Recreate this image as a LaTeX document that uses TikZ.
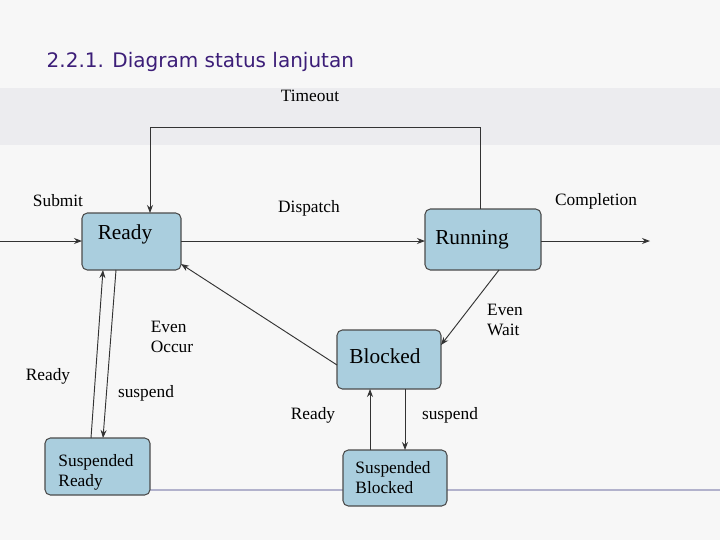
\documentclass[tikz,border=0pt]{standalone}
\usepackage{fontspec}
\setmainfont{Liberation Serif}
\newfontfamily\titlefont{DejaVu Sans}
\usetikzlibrary{arrows.meta}
\definecolor{boxfill}{RGB}{170,206,222}
\definecolor{titlecol}{RGB}{60,30,120}
\begin{document}
\begin{tikzpicture}[x=0.75pt,y=-0.75pt,
  st/.style={draw=black!70,fill=boxfill,rounded corners=4pt,line width=0.8pt},
  lbl/.style={font=\fontsize{13}{15}\selectfont,align=left},
  big/.style={font=\fontsize{16}{17}\selectfont},
  ar/.style={draw=black!80,line width=0.7pt,-{Stealth[length=6pt]}}]
\useasboundingbox (0,0) rectangle (720,540);
\fill[white!94!gray] (0,0) rectangle (720,540);
\fill[blue!8!gray!14] (0,88) rectangle (720,145);
\draw[blue!20!gray!50,line width=1pt] (90,490) -- (720,490);
\node[anchor=west,text=titlecol,font=\titlefont\fontsize{15}{16}\selectfont] (title) at (42,62) {2.2.1. Diagram status lanjutan};
% states
\path[st] (82,213) rectangle (181,270);
\node[big] (readyt) at (125,234) {Ready};
\path[st] (425,209) rectangle (541,270);
\node[big] (run) at (472,240) {Running};
\path[st] (337,330) rectangle (441,389);
\node[big] (blk) at (385,356) {Blocked};
\path[st] (45,438) rectangle (150,495);
\node[lbl] (sr) at (96,472) {Suspended\\Ready};
\path[st] (343,450) rectangle (447,506);
\node[lbl] (sb) at (393,478) {Suspended\\Blocked};
% labels
\node[lbl] (lsub) at (58,201) {Submit};
\node[lbl] (ltime) at (310,96) {Timeout};
\node[lbl] (ldis) at (309,208) {Dispatch};
\node[lbl] (lcomp) at (596,201) {Completion};
\node[lbl] (lew) at (505,320) {Even\\Wait};
\node[lbl] (leo) at (172,337) {Even\\Occur};
\node[lbl] (lr1) at (48,376) {Ready};
\node[lbl] (ls1) at (146,393) {suspend};
\node[lbl] (lr2) at (313,415) {Ready};
\node[lbl] (ls2) at (450,415) {suspend};
% connectors
\coordinate (s0) at (0,241);
\coordinate (s1) at (82,241);
\draw[ar] (s0) -- (s1);
\coordinate (t0) at (480,209);
\coordinate (t1) at (150,213);
\draw[ar] (t0) -- (480,127) -- (150,127) -- (t1);
\draw[ar] (181,241) -- (425,241);
\coordinate (c1) at (650,241);
\draw[ar] (541,241) -- (c1);
\draw[ar] (499,270) -- (441,345);
\draw[ar] (337,365) -- (181,264);
\draw[ar] (116,270) -- (103,438);
\draw[ar] (91,438) -- (103,270);
\draw[ar] (405,389) -- (405,450);
\draw[ar] (370,450) -- (370,389);
\end{tikzpicture}
\end{document}
